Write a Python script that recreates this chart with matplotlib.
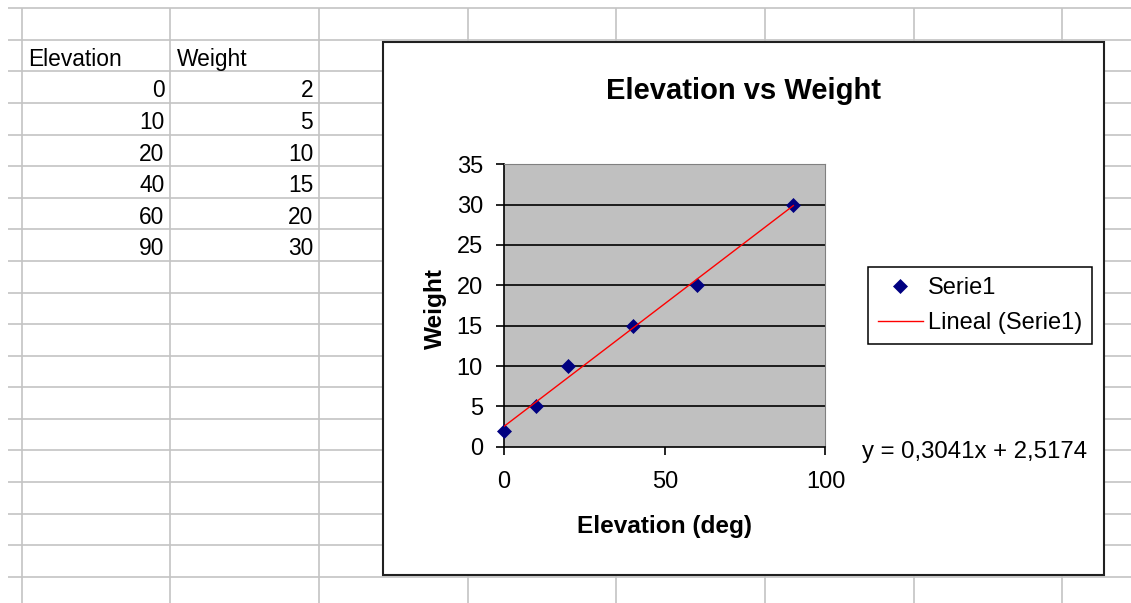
import numpy as np
import matplotlib
matplotlib.use("Agg")
import matplotlib.pyplot as plt
from matplotlib.patches import Rectangle

plt.rcParams['font.family'] = ['Liberation Sans', 'DejaVu Sans']

# sheet data
headers = ["Elevation", "Weight"]
elevation = [0, 10, 20, 40, 60, 90]
weight = [2, 5, 10, 15, 20, 30]

W, H = 1131, 603
fig = plt.figure(figsize=(W / 100, H / 100), dpi=100)

# spreadsheet background, pixel coordinates
bg = fig.add_axes([0, 0, 1, 1])
bg.set_xlim(0, W)
bg.set_ylim(H, 0)
bg.axis('off')

row_y = 8.3 + 31.58 * np.arange(19)
col_x = 21.7 + 148.66 * np.arange(8)
grid_col = '#c4c4c4'
for y in row_y:
    bg.plot([8, W], [y, y], color=grid_col, lw=1.2, solid_capstyle='butt')
for x in col_x:
    bg.plot([x, x], [8.3, H], color=grid_col, lw=1.2, solid_capstyle='butt')

# table cells: header row then values, right aligned
bg.text(col_x[0] + 6.6, row_y[2] - 5.6, headers[0], fontsize=16.4, va='baseline')
bg.text(col_x[1] + 6.6, row_y[2] - 5.6, headers[1], fontsize=16.4, va='baseline')
for i, (e, w) in enumerate(zip(elevation, weight)):
    base = row_y[3 + i] - 5.6
    bg.text(col_x[1] - 6, base, str(e), fontsize=16.4, ha='right', va='baseline')
    bg.text(col_x[2] - 6, base, str(w), fontsize=16.4, ha='right', va='baseline')

# chart object
bg.add_patch(Rectangle((383, 42.3), 1104 - 383, 575 - 42.3, facecolor='white',
                       edgecolor='#202020', lw=1.5, zorder=5))
bg.text(743.5, 99, "Elevation vs Weight", fontsize=21, fontweight='bold',
        ha='center', va='baseline', zorder=6)

slope, intercept = np.polyfit(elevation, weight, 1)
eq = f"y = {slope:.4f}x + {intercept:.4f}".replace('.', ',')
bg.text(862, 458, eq, fontsize=17.3, va='baseline', zorder=6)

ax = fig.add_axes([504 / W, (H - 446.7) / H, 321.5 / W, 282.4 / H])
ax.set_facecolor('#c0c0c0')
ax.set_xlim(0, 100)
ax.set_ylim(0, 35)
ax.set_xticks([0, 50, 100])
yt = np.arange(0, 36, 5)
ax.set_yticks(yt)
ax.hlines(yt[1:-1], 0, 100, color='black', lw=1.2, zorder=1)

for s in ['left', 'bottom']:
    ax.spines[s].set_color('black')
    ax.spines[s].set_linewidth(1.2)
for s in ['top', 'right']:
    ax.spines[s].set_color('#808080')
    ax.spines[s].set_linewidth(0.8)

ax.tick_params(direction='out', length=5.8, width=1.2, color='black', labelsize=17)
ax.tick_params(axis='x', pad=11.5)
ax.tick_params(axis='y', pad=9.4)

pts, = ax.plot(elevation, weight, 'D', color='#000080', mec='#000080', ms=7,
               mew=0.5, clip_on=False, zorder=3, label='Serie1')
xs = np.array([min(elevation), max(elevation)])
fit, = ax.plot(xs, slope * xs + intercept, color='red', lw=1.0, zorder=4,
               label='Lineal (Serie1)')

ax.set_xlabel("Elevation (deg)", fontsize=17.6, fontweight='bold', va='baseline')
ax.xaxis.set_label_coords(0.5, -0.3067)
ax.set_ylabel("Weight", fontsize=17.6, fontweight='bold', va='baseline')
ax.yaxis.set_label_coords(-0.194, 0.49)

leg = ax.legend(handles=[pts, fit], loc='upper left',
                bbox_to_anchor=(868 / W, 1 - 267 / H), bbox_transform=fig.transFigure,
                borderaxespad=0, fancybox=False, framealpha=1, edgecolor='black',
                fontsize=17, handlelength=1.9, handletextpad=0.22,
                borderpad=0.42, labelspacing=0.55)
leg.get_frame().set_linewidth(1.1)

fig.savefig("out.png", dpi=100)
